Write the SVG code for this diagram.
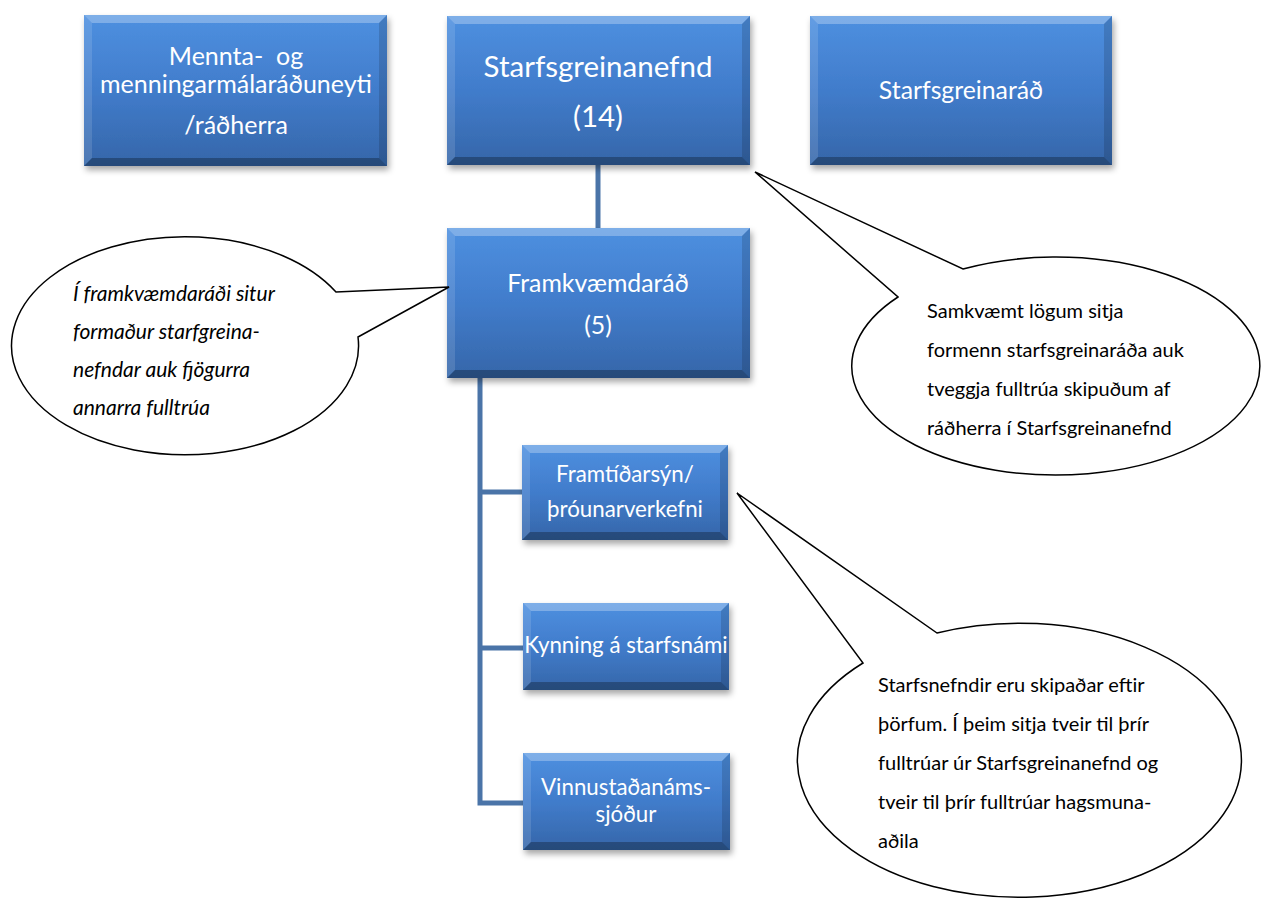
<svg xmlns="http://www.w3.org/2000/svg" width="1270" height="898" viewBox="0 0 1270 898">
<defs>
<linearGradient id="blue" x1="0" y1="0" x2="0" y2="1">
<stop offset="0" stop-color="#4e90e0"/>
<stop offset="0.5" stop-color="#417ccb"/>
<stop offset="1" stop-color="#3566a9"/>
</linearGradient>
<filter id="sh" x="-10%" y="-10%" width="125%" height="130%">
<feDropShadow dx="2" dy="4" stdDeviation="3" flood-color="#000" flood-opacity="0.35"/>
</filter>
</defs>
<style>
.box{fill:url(#blue);filter:url(#sh)}
.bt{fill:#ffffff;fill-opacity:0.28}
.bl{fill:#ffffff;fill-opacity:0.12}
.br{fill:#000000;fill-opacity:0.14}
.bb{fill:#000000;fill-opacity:0.28}
.t{font-family:Lato,"Liberation Sans",sans-serif;fill:#ffffff;text-anchor:middle}
.conn{stroke:#4a74a8;stroke-width:5;fill:none}
.bub{fill:#ffffff;stroke:#000000;stroke-width:1.5;stroke-linejoin:miter}
.c{font-family:Lato,"Liberation Sans",sans-serif;fill:#000000;font-size:20px}
.ci{font-style:italic;font-size:21px}
</style>

<g id="connectors">
<line class="conn" x1="598" y1="165" x2="598" y2="228"/>
<polyline class="conn" points="480,378 480,803 523,803"/>
<line class="conn" x1="480" y1="492" x2="522" y2="492"/>
<line class="conn" x1="480" y1="648" x2="523" y2="648"/>
</g>

<g id="ministry">
<rect class="box" x="84" y="15" width="303" height="151"/>
<polygon class="bt" points="84,15 387,15 379,23 92,23"/>
<polygon class="bl" points="84,15 92,23 92,158 84,166"/>
<polygon class="br" points="387,15 387,166 379,158 379,23"/>
<polygon class="bb" points="84,166 387,166 379,158 92,158"/>
<text class="t" font-size="25" x="236" y="65" xml:space="preserve">Mennta-  og</text>
<text class="t" font-size="25" x="236" y="93">menningarmálaráðuneyti</text>
<text class="t" font-size="25" x="236" y="134">/ráðherra</text>
</g>

<g id="starfsgreinanefnd">
<rect class="box" x="447" y="16" width="303" height="149"/>
<polygon class="bt" points="447,16 750,16 742,24 455,24"/>
<polygon class="bl" points="447,16 455,24 455,157 447,165"/>
<polygon class="br" points="750,16 750,165 742,157 742,24"/>
<polygon class="bb" points="447,165 750,165 742,157 455,157"/>
<text class="t" font-size="29.5" x="598" y="77">Starfsgreinanefnd</text>
<text class="t" font-size="29.5" x="598" y="127">(14)</text>
</g>

<g id="starfsgreinarad">
<rect class="box" x="810" y="16" width="302" height="149"/>
<polygon class="bt" points="810,16 1112,16 1104,24 818,24"/>
<polygon class="bl" points="810,16 818,24 818,157 810,165"/>
<polygon class="br" points="1112,16 1112,165 1104,157 1104,24"/>
<polygon class="bb" points="810,165 1112,165 1104,157 818,157"/>
<text class="t" font-size="24.8" x="961" y="99">Starfsgreinaráð</text>
</g>

<g id="framkvaemdarad">
<rect class="box" x="447" y="228" width="303" height="150"/>
<polygon class="bt" points="447,228 750,228 742,236 455,236"/>
<polygon class="bl" points="447,228 455,236 455,370 447,378"/>
<polygon class="br" points="750,228 750,378 742,370 742,236"/>
<polygon class="bb" points="447,378 750,378 742,370 455,370"/>
<text class="t" font-size="24.8" x="598" y="292">Framkvæmdaráð</text>
<text class="t" font-size="24.8" x="598" y="334">(5)</text>
</g>

<g id="framtidarsyn">
<rect class="box" x="522" y="445" width="206" height="95"/>
<polygon class="bt" points="522,445 728,445 720,453 530,453"/>
<polygon class="bl" points="522,445 530,453 530,532 522,540"/>
<polygon class="br" points="728,445 728,540 720,532 720,453"/>
<polygon class="bb" points="522,540 728,540 720,532 530,532"/>
<text class="t" font-size="22.3" x="625" y="482">Framtíðarsýn/</text>
<text class="t" font-size="22.3" x="625" y="517">þróunarverkefni</text>
</g>

<g id="kynning">
<rect class="box" x="523" y="603" width="206" height="87"/>
<polygon class="bt" points="523,603 729,603 721,611 531,611"/>
<polygon class="bl" points="523,603 531,611 531,682 523,690"/>
<polygon class="br" points="729,603 729,690 721,682 721,611"/>
<polygon class="bb" points="523,690 729,690 721,682 531,682"/>
<text class="t" font-size="22.3" x="626" y="653">Kynning á starfsnámi</text>
</g>

<g id="vinnustadanamssjodur">
<rect class="box" x="523" y="753" width="207" height="97"/>
<polygon class="bt" points="523,753 730,753 722,761 531,761"/>
<polygon class="bl" points="523,753 531,761 531,842 523,850"/>
<polygon class="br" points="730,753 730,850 722,842 722,761"/>
<polygon class="bb" points="523,850 730,850 722,842 531,842"/>
<text class="t" font-size="22.3" x="626" y="795">Vinnustaðanáms-</text>
<text class="t" font-size="22.3" x="626" y="822">sjóður</text>
</g>

<g id="callout-left">
<path class="bub" d="M336,292 A173.5,109 0 1 0 358,337 L449,287 Z"/>
<text class="c ci" x="73" y="301">Í framkvæmdaráði situr</text>
<text class="c ci" x="73" y="339">formaður starfgreina-</text>
<text class="c ci" x="73" y="377">nefndar auk fjögurra</text>
<text class="c ci" x="73" y="415">annarra fulltrúa</text>
</g>

<g id="callout-right-top">
<path class="bub" d="M963,269 A204,109 0 1 1 898,297 L755,172 Z"/>
<text class="c" x="927" y="318">Samkvæmt lögum sitja</text>
<text class="c" x="927" y="357">formenn starfsgreinaráða auk</text>
<text class="c" x="927" y="396">tveggja fulltrúa skipuðum af</text>
<text class="c" x="927" y="435">ráðherra í Starfsgreinanefnd</text>
</g>

<g id="callout-right-bottom">
<path class="bub" d="M937,633 A222,137 0 1 1 863,663 L737,493 Z"/>
<text class="c" x="878" y="692">Starfsnefndir eru skipaðar eftir</text>
<text class="c" x="878" y="731">þörfum. Í þeim sitja tveir til þrír</text>
<text class="c" x="878" y="770">fulltrúar úr Starfsgreinanefnd og</text>
<text class="c" x="878" y="809">tveir til þrír fulltrúar hagsmuna-</text>
<text class="c" x="878" y="848">aðila</text>
</g>
</svg>
